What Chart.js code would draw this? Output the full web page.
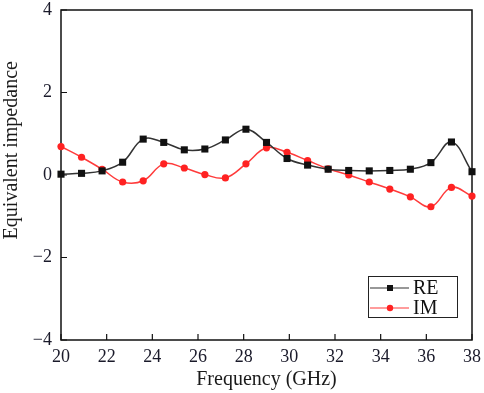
<!DOCTYPE html>
<html><head><meta charset="utf-8">
<style>html,body{margin:0;padding:0;background:#fff;}#wrap{width:484px;height:393px;}</style>
<script src="https://cdn.jsdelivr.net/npm/chart.js@4/dist/chart.umd.min.js"></script>
</head><body><div id="wrap"><canvas id="c" width="484" height="393"></canvas></div>
<script>
const frequency = [20,20.9,21.8,22.7,23.6,24.5,25.4,26.3,27.2,28.1,29,29.9,30.8,31.7,32.6,33.5,34.4,35.3,36.2,37.1,38];
const reValues = [0.02,0.04,0.10,0.31,0.87,0.79,0.61,0.63,0.85,1.11,0.79,0.40,0.24,0.14,0.11,0.10,0.11,0.14,0.30,0.80,0.08];
const imValues = [0.69,0.43,0.14,-0.17,-0.14,0.27,0.17,0.01,-0.07,0.27,0.66,0.55,0.35,0.15,0.00,-0.17,-0.34,-0.53,-0.77,-0.30,-0.51];
const xTicks = [20,22,24,26,28,30,32,34,36,38];
const yTicks = [-4,-2,0,2,4];
const seriesNames = ['RE','IM'];
const xTitle = 'Frequency (GHz)';
const yTitle = 'Equivalent impedance';

const FONT = 'Liberation Serif';
const toPts = (ys) => frequency.map((x,i)=>({x:x,y:ys[i]}));
const fmt = v => v < 0 ? '\u2212' + Math.abs(v) : String(v);

const framePlugin = {
  id:'frame',
  beforeDatasetsDraw(chart){
    const {ctx, chartArea:ca, scales} = chart;
    ctx.save();
    ctx.strokeStyle = '#111';
    ctx.lineWidth = 1.5;
    ctx.strokeRect(ca.left, ca.top, ca.right-ca.left, ca.bottom-ca.top);
    ctx.lineWidth = 1.2;
    ctx.beginPath();
    xTicks.forEach(v=>{ const px = scales.x.getPixelForValue(v); ctx.moveTo(px, ca.bottom); ctx.lineTo(px, ca.bottom-6); });
    yTicks.forEach(v=>{ const py = scales.y.getPixelForValue(v); ctx.moveTo(ca.left, py); ctx.lineTo(ca.left+6, py); });
    ctx.stroke();
    // y axis title (placed as in the reference, slightly above centre)
    ctx.translate(12, ca.top + (ca.bottom - ca.top) * 0.425);
    ctx.rotate(-Math.PI/2);
    ctx.fillStyle = '#1a1a1a';
    ctx.font = '20px "' + FONT + '"';
    ctx.textAlign = 'center';
    ctx.textBaseline = 'middle';
    ctx.fillText(yTitle, 0, 0);
    ctx.restore();
  },
  afterDatasetsDraw(chart){
    const {ctx, chartArea:ca} = chart;
    const L = ca.right - 104, T = ca.bottom - 64, W = 89, H = 41;
    ctx.save();
    ctx.fillStyle = '#fff';
    ctx.fillRect(L, T, W, H);
    ctx.strokeStyle = '#222';
    ctx.lineWidth = 1;
    ctx.strokeRect(L+0.5, T+0.5, W, H);
    chart.data.datasets.forEach((ds,i)=>{
      const y = T + 12 + i*20;
      ctx.strokeStyle = ds.borderColor;
      ctx.lineWidth = 1.2;
      ctx.beginPath(); ctx.moveTo(L+2, y); ctx.lineTo(L+41, y); ctx.stroke();
      ctx.fillStyle = ds.pointBackgroundColor;
      if (i===0) { ctx.fillRect(L+19, y-3, 6, 6); }
      else { ctx.beginPath(); ctx.arc(L+22, y, 3.2, 0, Math.PI*2); ctx.fill(); }
      ctx.fillStyle = '#111';
      ctx.font = '20px "' + FONT + '"';
      ctx.textBaseline = 'middle';
      ctx.textAlign = 'left';
      ctx.fillText(ds.label, L+45, y+1);
    });
    ctx.restore();
  }
};

new Chart(document.getElementById('c'), {
  type:'line',
  data:{ datasets:[
    { label:seriesNames[0], data:toPts(reValues), borderColor:'#333', borderWidth:1.5,
      pointStyle:'rect', pointRadius:5, pointBackgroundColor:'#111', pointBorderColor:'#111', pointBorderWidth:0,
      tension:0.4, clip:false },
    { label:seriesNames[1], data:toPts(imValues), borderColor:'#ff3b3b', borderWidth:1.5,
      pointStyle:'circle', pointRadius:3.6, pointBackgroundColor:'#ff2222', pointBorderColor:'#ff2222', pointBorderWidth:0,
      tension:0.4, clip:false }
  ]},
  options:{
    responsive:false, animation:false, devicePixelRatio:1,
    layout:{ padding:{ left:0, right:12, top:10, bottom:0 } },
    plugins:{ legend:{display:false}, tooltip:{enabled:false} },
    scales:{
      x:{ type:'linear', min:20, max:38,
        afterBuildTicks: s => { s.ticks = xTicks.map(v=>({value:v})); },
        afterFit: s => { s.height = 53; s.paddingLeft = 0; s.paddingRight = 0; },
        grid:{ display:false, drawTicks:false },
        border:{ display:false },
        ticks:{ padding:6, color:'#1a1a2a', font:{family:FONT, size:18}, callback: v => fmt(v), maxRotation:0 },
        title:{ display:true, text:xTitle, color:'#1a1a1a', font:{family:FONT, size:20}, padding:{top:0,bottom:1} }
      },
      y:{ type:'linear', min:-4, max:4,
        afterBuildTicks: s => { s.ticks = yTicks.map(v=>({value:v})); },
        afterFit: s => { s.width = 61; s.paddingTop = 0; s.paddingBottom = 0; },
        grid:{ display:false, drawTicks:false },
        border:{ display:false },
        ticks:{ padding:9, color:'#1a1a2a', font:{family:FONT, size:18}, callback: v => fmt(v) },
        title:{ display:false }
      }
    }
  },
  plugins:[framePlugin]
});
</script></body></html>
